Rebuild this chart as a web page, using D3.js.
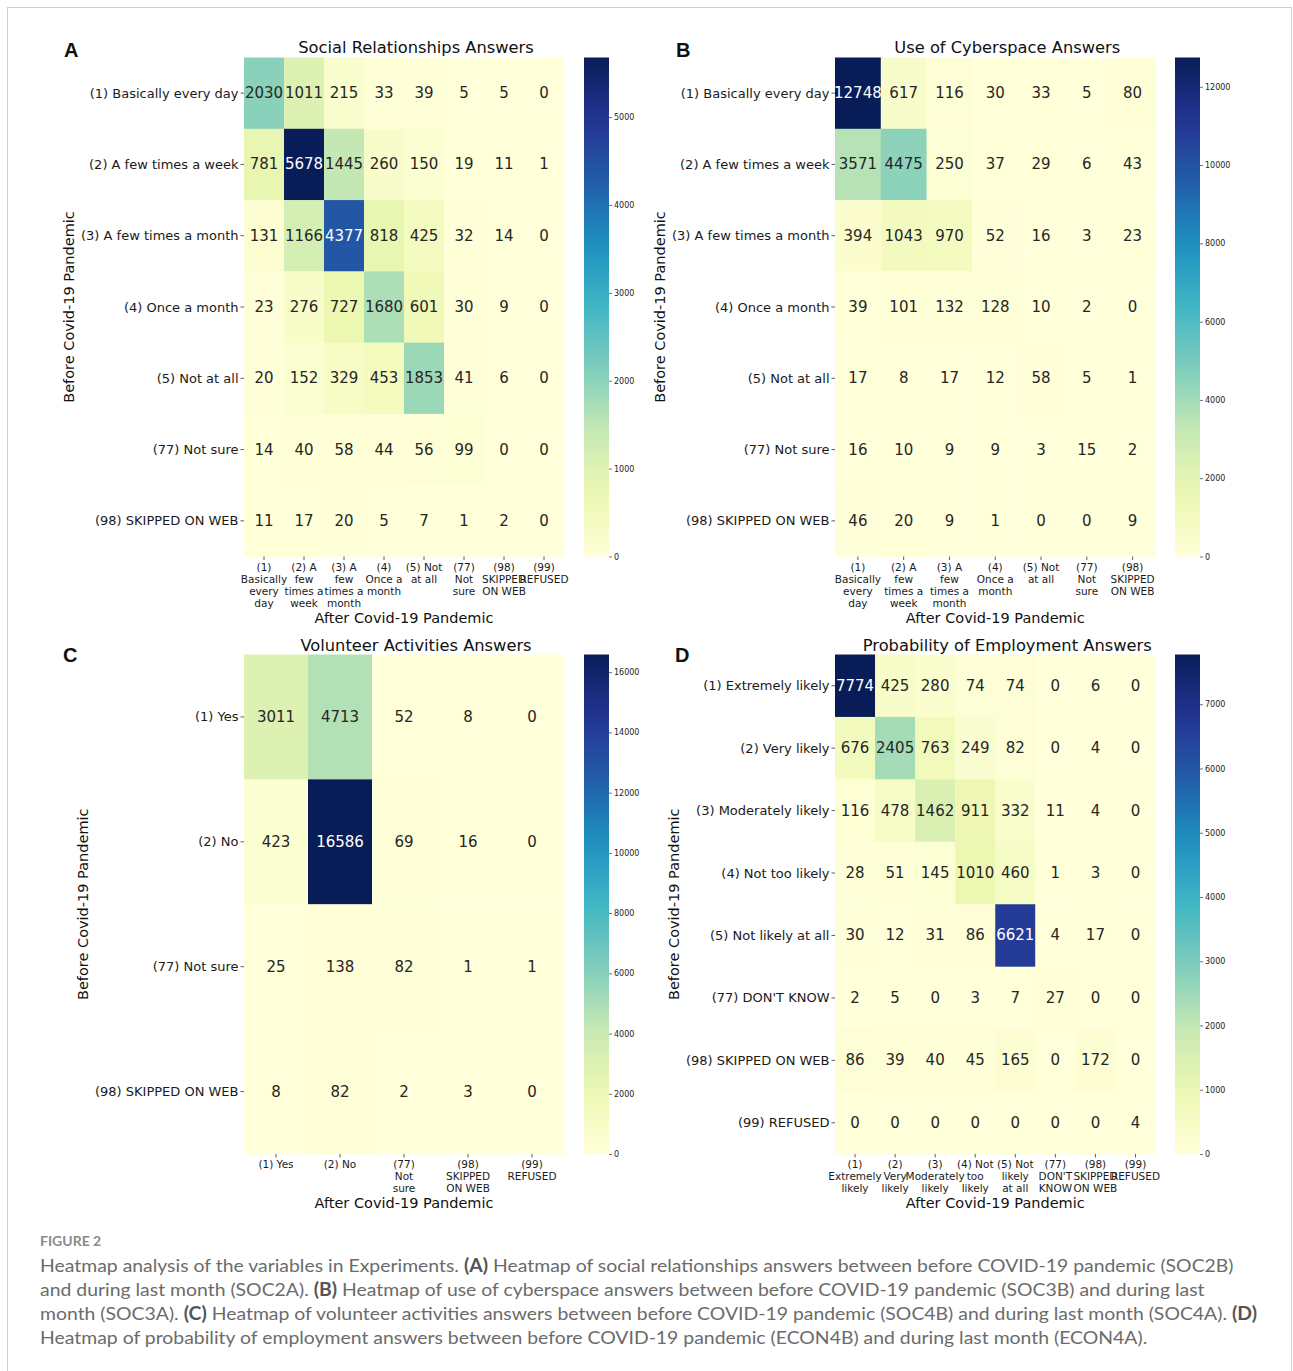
<!DOCTYPE html>
<html>
<head>
<meta charset="utf-8">
<script src="https://cdn.jsdelivr.net/npm/d3@7"></script>
<style>
  html, body { margin: 0; padding: 0; background: #fff; }
  svg { display: block; }
  text { font-family: "DejaVu Sans", sans-serif; }
</style>
</head>
<body>
<script>
// ---------- Data ----------
// A: Social relationships (rows: before pandemic, columns: after pandemic)
const rowsA = ["(1) Basically every day", "(2) A few times a week", "(3) A few times a month",
  "(4) Once a month", "(5) Not at all", "(77) Not sure", "(98) SKIPPED ON WEB"];
const colsA = [["(1)", "Basically", "every", "day"], ["(2) A", "few", "times a", "week"],
  ["(3) A", "few", "times a", "month"], ["(4)", "Once a", "month"], ["(5) Not", "at all"],
  ["(77)", "Not", "sure"], ["(98)", "SKIPPED", "ON WEB"], ["(99)", "REFUSED"]];
const valuesA = [
  [2030, 1011, 215, 33, 39, 5, 5, 0],
  [781, 5678, 1445, 260, 150, 19, 11, 1],
  [131, 1166, 4377, 818, 425, 32, 14, 0],
  [23, 276, 727, 1680, 601, 30, 9, 0],
  [20, 152, 329, 453, 1853, 41, 6, 0],
  [14, 40, 58, 44, 56, 99, 0, 0],
  [11, 17, 20, 5, 7, 1, 2, 0]
];
const cbTicksA = [0, 1000, 2000, 3000, 4000, 5000];

// B: Use of cyberspace
const rowsB = rowsA;
const colsB = [["(1)", "Basically", "every", "day"], ["(2) A", "few", "times a", "week"],
  ["(3) A", "few", "times a", "month"], ["(4)", "Once a", "month"], ["(5) Not", "at all"],
  ["(77)", "Not", "sure"], ["(98)", "SKIPPED", "ON WEB"]];
const valuesB = [
  [12748, 617, 116, 30, 33, 5, 80],
  [3571, 4475, 250, 37, 29, 6, 43],
  [394, 1043, 970, 52, 16, 3, 23],
  [39, 101, 132, 128, 10, 2, 0],
  [17, 8, 17, 12, 58, 5, 1],
  [16, 10, 9, 9, 3, 15, 2],
  [46, 20, 9, 1, 0, 0, 9]
];
const cbTicksB = [0, 2000, 4000, 6000, 8000, 10000, 12000];

// C: Volunteer activities
const rowsC = ["(1) Yes", "(2) No", "(77) Not sure", "(98) SKIPPED ON WEB"];
const colsC = [["(1) Yes"], ["(2) No"], ["(77)", "Not", "sure"], ["(98)", "SKIPPED", "ON WEB"], ["(99)", "REFUSED"]];
const valuesC = [
  [3011, 4713, 52, 8, 0],
  [423, 16586, 69, 16, 0],
  [25, 138, 82, 1, 1],
  [8, 82, 2, 3, 0]
];
const cbTicksC = [0, 2000, 4000, 6000, 8000, 10000, 12000, 14000, 16000];

// D: Probability of employment
const rowsD = ["(1) Extremely likely", "(2) Very likely", "(3) Moderately likely", "(4) Not too likely",
  "(5) Not likely at all", "(77) DON'T KNOW", "(98) SKIPPED ON WEB", "(99) REFUSED"];
const colsD = [["(1)", "Extremely", "likely"], ["(2)", "Very", "likely"], ["(3)", "Moderately", "likely"],
  ["(4) Not", "too", "likely"], ["(5) Not", "likely", "at all"], ["(77)", "DON'T", "KNOW"],
  ["(98)", "SKIPPED", "ON WEB"], ["(99)", "REFUSED"]];
const valuesD = [
  [7774, 425, 280, 74, 74, 0, 6, 0],
  [676, 2405, 763, 249, 82, 0, 4, 0],
  [116, 478, 1462, 911, 332, 11, 4, 0],
  [28, 51, 145, 1010, 460, 1, 3, 0],
  [30, 12, 31, 86, 6621, 4, 17, 0],
  [2, 5, 0, 3, 7, 27, 0, 0],
  [86, 39, 40, 45, 165, 0, 172, 0],
  [0, 0, 0, 0, 0, 0, 0, 4]
];
const cbTicksD = [0, 1000, 2000, 3000, 4000, 5000, 6000, 7000];

const titles = ["Social Relationships Answers", "Use of Cyberspace Answers",
  "Volunteer Activities Answers", "Probability of Employment Answers"];
const letters = ["A", "B", "C", "D"];
const xLabel = "After Covid-19 Pandemic";
const yLabel = "Before Covid-19 Pandemic";

// ---------- Layout ----------
const W = 1293, H = 1371;
const svg = d3.select("body").append("svg").attr("width", W).attr("height", H);
svg.append("rect").attr("width", W).attr("height", H).attr("fill", "#fff");
svg.append("rect").attr("x", 7.5).attr("y", 7.5).attr("width", 1284).attr("height", 1420)
  .attr("fill", "none").attr("stroke", "#cfcfcf").attr("stroke-width", 1);

// matplotlib-style YlGnBu: linear segments between the ColorBrewer 9-class colours
const ylgnbu = d3.piecewise(d3.interpolateRgb, d3.schemeYlGnBu[9]);

function luminance(c) {
  const rgb = d3.rgb(c);
  const f = v => { v /= 255; return v <= 0.03928 ? v / 12.92 : Math.pow((v + 0.055) / 1.055, 2.4); };
  return 0.2126 * f(rgb.r) + 0.7152 * f(rgb.g) + 0.0722 * f(rgb.b);
}

const panels = [
  { rows: rowsA, cols: colsA, values: valuesA, cbTicks: cbTicksA, x0: 244, x1: 564, y0: 57.5, y1: 556.5,
    cbx: 584, ylabX: 69, letterX: 64, letterY: 57, titleY: 53, xtY: 571, xlabY: 623 },
  { rows: rowsB, cols: colsB, values: valuesB, cbTicks: cbTicksB, x0: 835, x1: 1155.5, y0: 57.5, y1: 556.5,
    cbx: 1175, ylabX: 660, letterX: 676, letterY: 57, titleY: 53, xtY: 571, xlabY: 623 },
  { rows: rowsC, cols: colsC, values: valuesC, cbTicks: cbTicksC, x0: 244, x1: 564, y0: 654.5, y1: 1154,
    cbx: 584, ylabX: 83, letterX: 63, letterY: 662, titleY: 651, xtY: 1168, xlabY: 1208 },
  { rows: rowsD, cols: colsD, values: valuesD, cbTicks: cbTicksD, x0: 835, x1: 1155.5, y0: 654.5, y1: 1154,
    cbx: 1175, ylabX: 674, letterX: 675, letterY: 662, titleY: 651, xtY: 1168, xlabY: 1208 }
];

panels.forEach((p, i) => {
  const g = svg.append("g");
  const x = d3.scaleBand().domain(d3.range(p.cols.length)).range([p.x0, p.x1]);
  const y = d3.scaleBand().domain(d3.range(p.rows.length)).range([p.y0, p.y1]);
  const vmax = d3.max(p.values.flat());
  const color = d3.scaleSequential(ylgnbu).domain([0, vmax]);

  const cells = p.values.flatMap((row, r) => row.map((v, c) => ({ r, c, v })));

  g.selectAll("rect.cell").data(cells).join("rect")
    .attr("class", "cell")
    .attr("x", d => x(d.c)).attr("y", d => y(d.r))
    .attr("width", x.bandwidth() + 0.4).attr("height", y.bandwidth() + 0.4)
    .attr("fill", d => color(d.v));

  g.selectAll("text.annot").data(cells).join("text")
    .attr("class", "annot")
    .attr("x", d => x(d.c) + x.bandwidth() / 2)
    .attr("y", d => y(d.r) + y.bandwidth() / 2)
    .attr("text-anchor", "middle").attr("dominant-baseline", "central")
    .attr("font-size", 15)
    .attr("fill", d => luminance(color(d.v)) > 0.408 ? "#262626" : "#ffffff")
    .text(d => d.v);

  // y ticks and labels
  p.rows.forEach((lab, r) => {
    const cy = y(r) + y.bandwidth() / 2;
    g.append("line").attr("x1", p.x0 - 3.5).attr("x2", p.x0).attr("y1", cy).attr("y2", cy)
      .attr("stroke", "#333").attr("stroke-width", 0.8);
    g.append("text").attr("x", p.x0 - 5.5).attr("y", cy)
      .attr("text-anchor", "end").attr("dominant-baseline", "central")
      .attr("font-size", 13).attr("fill", "#1a1a1a").text(lab);
  });

  // x ticks and multi-line labels
  p.cols.forEach((lines, c) => {
    const cx = x(c) + x.bandwidth() / 2;
    g.append("line").attr("x1", cx).attr("x2", cx).attr("y1", p.y1).attr("y2", p.y1 + 3.5)
      .attr("stroke", "#333").attr("stroke-width", 0.8);
    const t = g.append("text").attr("text-anchor", "middle").attr("font-size", 10.5).attr("fill", "#1a1a1a");
    lines.forEach((ln, k) => {
      t.append("tspan").attr("x", cx).attr("y", p.xtY + k * 12).text(ln);
    });
  });

  // axis labels
  g.append("text").attr("x", (p.x0 + p.x1) / 2).attr("y", p.xlabY)
    .attr("text-anchor", "middle").attr("font-size", 14.5).attr("fill", "#111").text(xLabel);
  g.append("text")
    .attr("transform", `translate(${p.ylabX},${(p.y0 + p.y1) / 2}) rotate(-90)`)
    .attr("text-anchor", "middle").attr("dominant-baseline", "central")
    .attr("font-size", 14.5).attr("fill", "#111").text(yLabel);

  // title and panel letter
  g.append("text").attr("x", (p.x0 + p.x1) / 2 + 12).attr("y", p.titleY)
    .attr("text-anchor", "middle").attr("font-size", 16.3).attr("fill", "#111").text(titles[i]);
  g.append("text").attr("x", p.letterX).attr("y", p.letterY)
    .style("font-family", "'Liberation Sans', Arial, sans-serif")
    .attr("font-size", 20).attr("font-weight", "bold").attr("fill", "#111").text(letters[i]);

  // colour bar
  const gradId = "cb" + i;
  const grad = svg.append("defs").append("linearGradient").attr("id", gradId)
    .attr("x1", 0).attr("y1", 1).attr("x2", 0).attr("y2", 0);
  d3.range(0, 1.0001, 0.05).forEach(t => {
    grad.append("stop").attr("offset", t).attr("stop-color", color(t * vmax));
  });
  g.append("rect").attr("x", p.cbx).attr("y", p.y0).attr("width", 25).attr("height", p.y1 - p.y0)
    .attr("fill", `url(#${gradId})`);
  const cbScale = d3.scaleLinear().domain([0, vmax]).range([p.y1, p.y0]);
  const ax = g.append("g").attr("transform", `translate(${p.cbx + 25},0)`)
    .call(d3.axisRight(cbScale).tickValues(p.cbTicks).tickSize(3).tickPadding(2).tickFormat(d3.format("d")));
  ax.select(".domain").remove();
  ax.selectAll("line").attr("stroke", "#333").attr("stroke-width", 0.7);
  ax.selectAll("text").attr("font-size", 8).attr("fill", "#222")
    .style("font-family", "'DejaVu Sans', sans-serif");
});

// ---------- Caption ----------
svg.append("text").attr("x", 40).attr("y", 1246)
  .style("font-family", "Lato, 'Open Sans', sans-serif")
  .attr("font-size", 14).attr("font-weight", "bold").attr("fill", "#8a8a8a").text("FIGURE 2");

const captionLines = [
  [["Heatmap analysis of the variables in Experiments. ", false], ["(A)", true],
   [" Heatmap of social relationships answers between before COVID-19 pandemic (SOC2B)", false]],
  [["and during last month (SOC2A). ", false], ["(B)", true],
   [" Heatmap of use of cyberspace answers between before COVID-19 pandemic (SOC3B) and during last", false]],
  [["month (SOC3A). ", false], ["(C)", true],
   [" Heatmap of volunteer activities answers between before COVID-19 pandemic (SOC4B) and during last month (SOC4A). ", false],
   ["(D)", true]],
  [["Heatmap of probability of employment answers between before COVID-19 pandemic (ECON4B) and during last month (ECON4A).", false]]
];
// caption face is a little wider than Lato, so stretch it horizontally
const cap = svg.append("g").attr("transform", "translate(40,0) scale(1.078,1)");
captionLines.forEach((parts, k) => {
  const t = cap.append("text").attr("x", 0).attr("y", 1272 + k * 24)
    .style("font-family", "Lato, 'Open Sans', sans-serif")
    .attr("font-size", 18).attr("fill", "#6b6b6b");
  parts.forEach(([s, b]) => {
    t.append("tspan").attr("font-weight", b ? "bold" : "normal").attr("fill", b ? "#555" : null).text(s);
  });
});
</script>
</body>
</html>
